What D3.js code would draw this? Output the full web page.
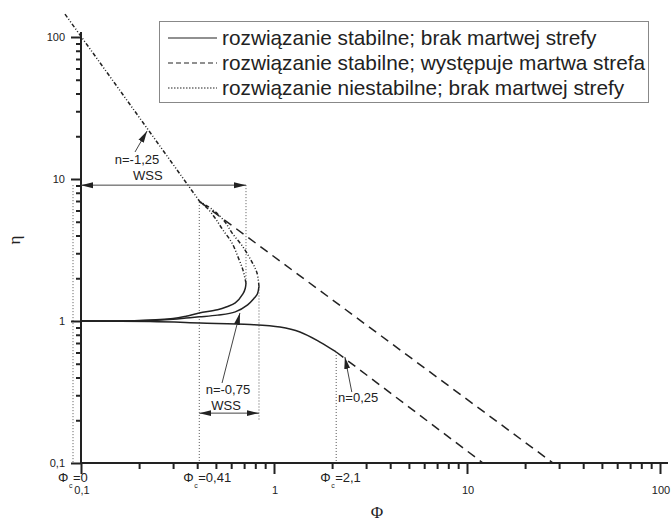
<!DOCTYPE html>
<html lang="pl">
<head>
<meta charset="UTF-8">
<title>Rozwiązania stabilne i niestabilne</title>
<script src="https://d3js.org/d3.v7.min.js"></script>
<style>
    body { margin: 0; background: #fff; }
    text { font-family: "Liberation Sans", Arial, sans-serif; fill: #222; }
    .tick-label { font-size: 11px; }
    .note { font-size: 13px; }
    .legend-text { font-size: 20.8px; }
    .title { font-family: "Liberation Serif", "DejaVu Serif", serif; font-size: 17px; }
</style>
</head>
<body>
<div id="chart"></div>
<script>
// dane (Phi, eta)
const xTicks = [0.1, 1, 10, 100];
const yTicks = [0.1, 1, 10, 100];
const tickLabels = ["0,1", "1", "10", "100"];

// n = 0,25
const n025Stable = [[0.1, 1.0], [0.228, 0.99], [0.414, 0.968], [0.751, 0.945], [1.074, 0.907], [1.363, 0.837], [1.731, 0.711], [2.1, 0.605]];
const n025Dead = [[2.1, 0.605], [12.1, 0.1]];
// n = -1,25
const n125Stable = [[0.1, 1.0], [0.2, 1.01], [0.3, 1.04], [0.35, 1.08], [0.41, 1.14], [0.51, 1.2], [0.57, 1.26], [0.63, 1.34], [0.69, 1.55], [0.71, 1.7], [0.716, 1.85]];
const n125Unstable = [[0.716, 1.85], [0.69, 2.29], [0.651, 2.82], [0.606, 3.54], [0.544, 4.37], [0.495, 5.31], [0.45, 6.25], [0.414, 6.89]];
// n = -0,75
const n075Stable = [[0.1, 1.0], [0.2, 1.005], [0.3, 1.03], [0.35, 1.05], [0.41, 1.07], [0.51, 1.1], [0.63, 1.16], [0.73, 1.3], [0.79, 1.45], [0.82, 1.55], [0.836, 1.75]];
const n075Unstable = [[0.836, 1.75], [0.8165, 2.18], [0.769, 2.6], [0.691, 3.32], [0.606, 4.17], [0.5575, 4.98], [0.483, 6.05], [0.414, 6.89]];
// proste
const unstableLine = [[0.0826, 145], [0.414, 6.89]];
const deadLine = [[0.414, 6.89], [27.9, 0.1]];

const legendLabels = [
    "rozwiązanie stabilne; brak martwej strefy",
    "rozwiązanie stabilne; występuje martwa strefa",
    "rozwiązanie niestabilne; brak martwej strefy"
];
const legendDash = [null, "5,3", "1.5,1.5"];

const width = 672, height = 522;
const svg = d3.select("#chart").append("svg")
    .attr("width", width)
    .attr("height", height);

const x = d3.scaleLog().domain([0.1, 100]).range([81, 660]);
const y = d3.scaleLog().domain([0.1, 100]).range([463, 37]);

// strzałki
const defs = svg.append("defs");
defs.append("marker")
    .attr("id", "head")
    .attr("viewBox", "0 -4 12 8")
    .attr("refX", 12).attr("refY", 0)
    .attr("markerWidth", 12).attr("markerHeight", 8)
    .attr("markerUnits", "userSpaceOnUse")
    .attr("orient", "auto-start-reverse")
    .append("path").attr("d", "M0,-3L12,0L0,3Z").attr("fill", "#222");

// linie kropkowane pomocnicze
const guides = [
    { px: null, top: 9.05, bottom: 0.1 },     // Phi_c = 0
    { px: 0.41, top: 6.89, bottom: 0.1 },
    { px: 0.716, top: 9.05, bottom: 1.85 },
    { px: 0.836, top: 1.75, bottom: 0.2 },
    { px: 2.1, top: 0.605, bottom: 0.1 }
];
svg.append("g").selectAll("line").data(guides).enter().append("line")
    .attr("x1", d => d.px === null ? x(0.1) - 8 : x(d.px))
    .attr("x2", d => d.px === null ? x(0.1) - 8 : x(d.px))
    .attr("y1", d => y(d.top))
    .attr("y2", d => y(d.bottom))
    .attr("stroke", "#555")
    .attr("stroke-width", 1)
    .attr("stroke-dasharray", "1,2");

// osie
const xAxis = d3.axisBottom(x)
    .tickValues(d3.range(-1, 2).flatMap(e => d3.range(1, 10).map(k => k * Math.pow(10, e))).concat([100]))
    .tickSize(6).tickFormat("");
const gx = svg.append("g").attr("transform", `translate(0,${y(0.1)})`).call(xAxis);
gx.select(".domain").attr("d", `M${x(0.1)},0H${x(100) + 8}`);
gx.selectAll(".tick line").attr("y2", d => xTicks.includes(d) ? 11 : 6);

const yAxis = d3.axisLeft(y)
    .tickValues(d3.range(-1, 2).flatMap(e => d3.range(1, 10).map(k => k * Math.pow(10, e))).concat([100]))
    .tickSize(5).tickFormat("");
const gy = svg.append("g").attr("transform", `translate(${x(0.1)},0)`).call(yAxis);
gy.select(".domain").attr("d", `M0,${y(0.1)}V${y(100) - 5}`);
gy.selectAll(".tick line").attr("x2", d => yTicks.includes(d) ? -10 : -5);

svg.selectAll(".domain").attr("stroke", "#222").attr("stroke-width", 2);
svg.selectAll(".tick line").attr("stroke", "#222").attr("stroke-width", 2);

svg.append("g").selectAll("text").data(xTicks).enter().append("text")
    .attr("class", "tick-label")
    .attr("x", d => x(d) + 1)
    .attr("y", y(0.1) + 31)
    .attr("text-anchor", "middle")
    .text((d, i) => tickLabels[i]);

svg.append("g").selectAll("text").data(yTicks).enter().append("text")
    .attr("class", "tick-label")
    .attr("x", x(0.1) - 16)
    .attr("y", d => y(d) + 4)
    .attr("text-anchor", "end")
    .text((d, i) => tickLabels[i]);

svg.append("text").attr("class", "title")
    .attr("x", x(3.42)).attr("y", 518)
    .attr("text-anchor", "middle").text("Φ");
svg.append("text").attr("class", "title")
    .attr("transform", `translate(20,${y(3.72)}) rotate(-90)`)
    .attr("text-anchor", "middle").text("η");

// krzywe
const line = d3.line()
    .x(d => x(d[0]))
    .y(d => y(d[1]))
    .curve(d3.curveCatmullRom.alpha(0.5));

const series = [
    { data: n025Stable, dash: null },
    { data: n025Dead, dash: "9,6" },
    { data: n125Stable, dash: null },
    { data: n075Stable, dash: null },
    { data: n125Unstable, dash: "4,2,1,2,1,2" },
    { data: n075Unstable, dash: "4,2,1,2,1,2" },
    { data: unstableLine, dash: "4,2,1,2,1,2" },
    { data: deadLine, dash: "9,6" }
];
svg.append("g").selectAll("path").data(series).enter().append("path")
    .attr("d", d => line(d.data))
    .attr("fill", "none")
    .attr("stroke", "#222")
    .attr("stroke-width", 1.5)
    .attr("stroke-dasharray", d => d.dash);

// przedziały WSS
const spans = [
    { from: null, to: 0.716, at: 9.05 },
    { from: 0.41, to: 0.836, at: 0.2245 }
];
svg.append("g").selectAll("line").data(spans).enter().append("line")
    .attr("x1", d => d.from === null ? x(0.1) : x(d.from))
    .attr("x2", d => x(d.to))
    .attr("y1", d => y(d.at))
    .attr("y2", d => y(d.at))
    .attr("stroke", "#444")
    .attr("stroke-width", 1)
    .attr("marker-start", "url(#head)")
    .attr("marker-end", "url(#head)");

// strzałki z opisami
const pointers = [
    { from: [0.1905, 15.5], to: [0.22, 21.8] },
    { from: [0.538, 0.366], to: [0.666, 1.139] },
    { from: [2.53, 0.316], to: [2.33, 0.558] }
];
svg.append("g").selectAll("line").data(pointers).enter().append("line")
    .attr("x1", d => x(d.from[0])).attr("y1", d => y(d.from[1]))
    .attr("x2", d => x(d.to[0])).attr("y2", d => y(d.to[1]))
    .attr("stroke", "#444")
    .attr("stroke-width", 1)
    .attr("marker-end", "url(#head)");

const notes = [
    { t: "n=-1,25", p: [0.195, 12.7] },
    { t: "WSS", p: [0.222, 9.84] },
    { t: "n=-0,75", p: [0.577, 0.306] },
    { t: "WSS", p: [0.565, 0.236] },
    { t: "n=0,25", p: [2.73, 0.269] }
];
svg.append("g").selectAll("text").data(notes).enter().append("text")
    .attr("class", "note")
    .attr("x", d => x(d.p[0])).attr("y", d => y(d.p[1]))
    .attr("text-anchor", "middle")
    .text(d => d.t);

// Phi_c
const phiC = [
    { v: null, t: "=0" },
    { v: 0.41, t: "=0,41" },
    { v: 2.1, t: "=2,1" }
];
const pc = svg.append("g").selectAll("g").data(phiC).enter().append("g")
    .attr("transform", d => `translate(${d.v === null ? x(0.1) - 23 : x(d.v) - 16},${y(0.1) + 19})`);
pc.append("text").attr("class", "note").attr("x", 0).text("Φ");
pc.append("text").attr("x", 11).attr("y", 6).style("font-size", "7px").text("c");
pc.append("text").attr("class", "note").attr("x", 15).text(d => d.t);

// legenda
const lg = svg.append("g");
lg.append("rect")
    .attr("x", 159.5).attr("y", 21.5)
    .attr("width", 489).attr("height", 81)
    .attr("fill", "#fff").attr("stroke", "#888").attr("stroke-width", 1);
const rows = lg.selectAll("g").data(legendLabels).enter().append("g")
    .attr("transform", (d, i) => `translate(168,${38 + i * 25})`);
rows.append("line")
    .attr("x1", 0).attr("x2", 49)
    .attr("stroke", "#222").attr("stroke-width", 1.2)
    .attr("stroke-dasharray", (d, i) => legendDash[i]);
rows.append("text").attr("class", "legend-text")
    .attr("x", 54).attr("y", 7)
    .text(d => d);
</script>
</body>
</html>
